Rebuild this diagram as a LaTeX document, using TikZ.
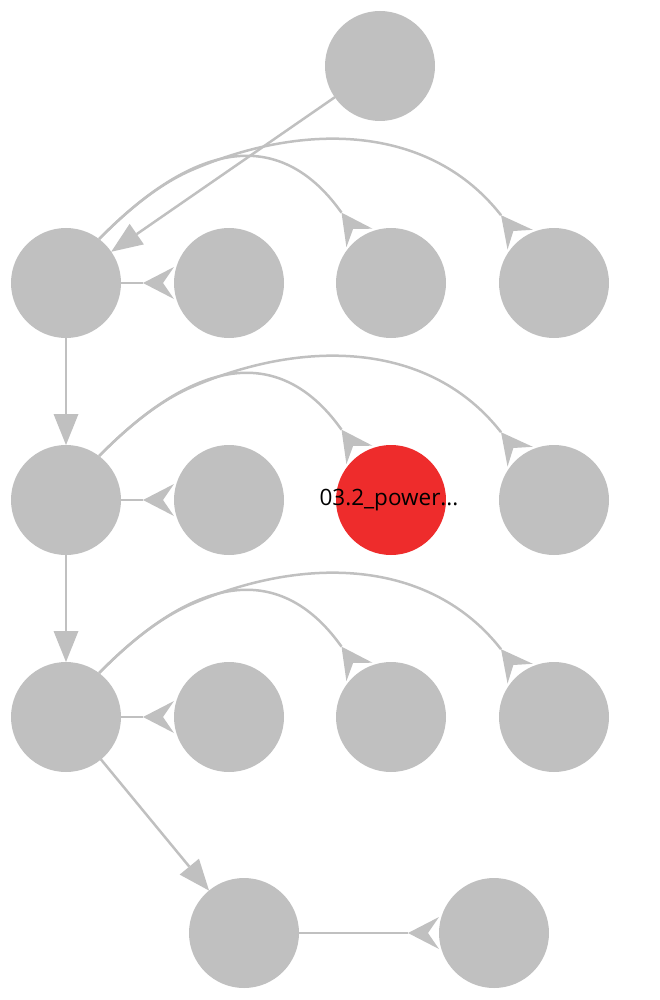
\documentclass[tikz,border=0pt]{standalone}
\usepackage{fontspec}
\newfontfamily\lblfont{Open Sans}
\usetikzlibrary{arrows.meta}
\definecolor{nodegray}{RGB}{192,192,192}
\definecolor{hotred}{RGB}{238,44,44}
\tikzset{
  nd/.style={circle, fill=nodegray, draw=none, minimum size=110pt, inner sep=0pt, outer sep=0pt},
  hot/.style={nd, fill=hotred},
  lbl/.style={text=black, font=\lblfont\fontsize{22.5}{22.5}\selectfont, inner sep=0pt},
  link/.style={draw=nodegray, line width=2.5pt},
  fwd/.style={link, -{Triangle[length=31pt,width=25pt,line width=0pt]}},
  back/.style={link, -{Stealth[reversed,length=31pt,width=32pt,inset=11pt,line width=0pt]}}
}
\begin{document}
\begin{tikzpicture}[x=1pt,y=-1pt]
\useasboundingbox (0,0) rectangle (660,1000);
% nodes
\node[nd] (t) at (380,66) {};
\foreach \r/\y in {1/283,2/500,3/717}{
  \node[nd] (n\r a) at (66,\y) {};
  \node[nd] (n\r b) at (229,\y) {};
  \node[nd] (n\r d) at (554,\y) {};
}
\node[nd] (n1c) at (391,283) {};
\node[hot] (n2c) at (391,500) {};
\node[nd] (n3c) at (391,717) {};
\node[nd] (b1) at (244,933) {};
\node[nd] (b2) at (494,933) {};
% straight connectors
\draw[fwd] (t) -- (n1a);
\draw[fwd] (n1a) -- (n2a);
\draw[fwd] (n2a) -- (n3a);
\draw[fwd] (n3a) -- (b1);
\draw[back] (b1) -- (b2);
% per row: a short link, a near arc and a far arc sharing its first stretch
\foreach \r/\y in {1/283,2/500,3/717}{
  \draw[back] (n\r a) -- (n\r b);
  \draw[back] (n\r a.53) .. controls (211,{\y-158}) and (290,{\y-143}) .. (n\r c.125);
  \draw[back] (n\r a.53) .. controls (132.7,{\y-78.1}) and (163.3,{\y-100.7}) .. (191.6,{\y-112.9})
    .. controls (306.4,{\y-162.5}) and (430.8,{\y-157.6}) .. (n\r d.128);
}
% label of the highlighted node
\node[lbl] (n2clbl) at ([xshift=-2pt]n2c.center) {03.2\_power...};
\end{tikzpicture}
\end{document}
